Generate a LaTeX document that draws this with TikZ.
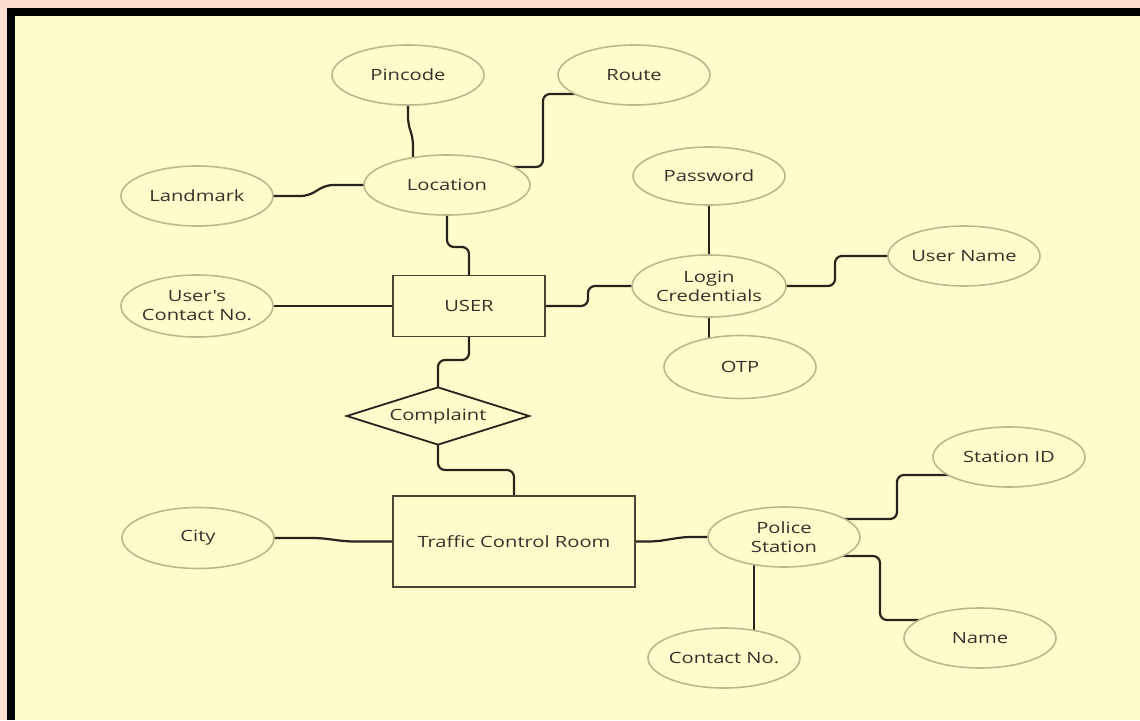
\documentclass[tikz,border=0pt]{standalone}
\usepackage{fontspec}
\setmainfont{Open Sans}
\newfontfamily\labelfont[FakeStretch=1.3]{Open Sans}
\usetikzlibrary{shapes.geometric,calc}
\definecolor{pagepink}{HTML}{FCDED3}
\definecolor{canvas}{HTML}{FFFCCB}
\definecolor{attrline}{HTML}{BDB68E}
\definecolor{boxline}{HTML}{4A4633}
\definecolor{wire}{HTML}{26251C}
\definecolor{ink}{HTML}{34322A}
\pgfdeclarelayer{frame}
\pgfdeclarelayer{wires}
\pgfsetlayers{frame,wires,main}
\begin{document}
\begin{tikzpicture}[x=1pt,y=-1pt,
  every node/.style={font=\labelfont\fontsize{15.5}{19}\selectfont, text=ink, align=center},
  attr/.style={ellipse, draw=attrline, line width=1.6pt, fill=canvas,
               minimum width=152pt, minimum height=60pt, inner sep=-10pt},
  entity/.style={rectangle, draw=boxline, line width=1.8pt, fill=canvas, inner sep=0pt},
  relation/.style={diamond, draw=wire, line width=1.8pt, fill=canvas, aspect=3.15,
                   minimum width=183pt, minimum height=58pt, inner sep=0pt},
  link/.style={draw=wire, line width=2.2pt, rounded corners=7pt}]
\useasboundingbox (0,0) rectangle (1140,720);

% page background and framed canvas
\begin{pgfonlayer}{frame}
  \fill[pagepink] (0,0) rectangle (1140,720);
  \fill[black] (7,8) rectangle (1140,720);
  \fill[canvas] (15,16) rectangle (1140,720);
\end{pgfonlayer}

% attributes, entities and the relationship
\node[attr] (pin) at (408,75) {Pincode};
\node[attr] (route) at (634,75) {Route};
\node[attr, minimum width=166pt] (loc) at (447,185) {Location};
\node[attr] (land) at (197,196) {Landmark};
\node[attr, minimum height=58pt] (pass) at (709,176) {Password};
\node[attr, minimum width=154pt, minimum height=62pt] (login) at (709,286) {Login\\Credentials};
\node[attr] (uname) at (964,256) {User Name};
\node[attr, minimum height=63pt] (otp) at (740,367) {OTP};
\node[attr, minimum height=62pt] (ucon) at (197,306) {User's\\Contact No.};
\node[entity, minimum width=152pt, minimum height=61pt] (user) at (469,306) {USER};
\node[relation] (comp) at (438,416) {Complaint};
\node[attr, minimum height=61pt] (city) at (198,538) {City};
\node[entity, minimum width=242pt, minimum height=91pt] (tcr) at (514,541.5) {Traffic Control Room};
\node[attr] (police) at (784,537) {Police\\Station};
\node[attr] (sid) at (1009,457) {Station ID};
\node[attr] (pname) at (980,638) {Name};
\node[attr] (cno) at (724,658) {Contact No.};

% connectors, drawn beneath the shapes
\begin{pgfonlayer}{wires}
  \draw[link] (pin.center) -- (408,124) -- (413,138) |- (loc.center);
  \draw[link] ($(loc.center)+(0,-18)$) -- (543,167) -- (543,94) -- ($(route.center)+(0,19)$);
  \draw[link] (land.center) -- (308,196) -- (326,185) -- (loc.center);
  \draw[link] (loc.center) -- (447,247) -| (user.center);
  \draw[link] (ucon) -- (user);
  \draw[link] (user.center) -- (588,306) |- (login.center);
  \draw[link] (pass) -- (login);
  \draw[link] (login.center) -- (835,286) |- (uname.center);
  \draw[link] (login.center) -- (login.center |- otp.center);
  \draw[link] (user.center) -- (469,360) -| (comp.center);
  \draw[link] (comp.center) -- (438,470) -| (tcr.center);
  \draw[link] (city.center) -- (320,538) -- (347,541.5) -- (tcr.center);
  \draw[link] (tcr.center) -- (656,541.5) -- (684,537) -- (police.center);
  \draw[link] ($(police.center)+(0,-18)$) -- (897,519) -- (897,475) -- ($(sid.center)+(0,18)$);
  \draw[link] ($(police.center)+(0,19)$) -- (880,556) -- (880,620) -- ($(pname.center)+(0,-18)$);
  \draw[link] ($(police.center)+(-30,0)$) -- ($(cno.center)+(30,0)$);
\end{pgfonlayer}
\end{tikzpicture}
\end{document}
